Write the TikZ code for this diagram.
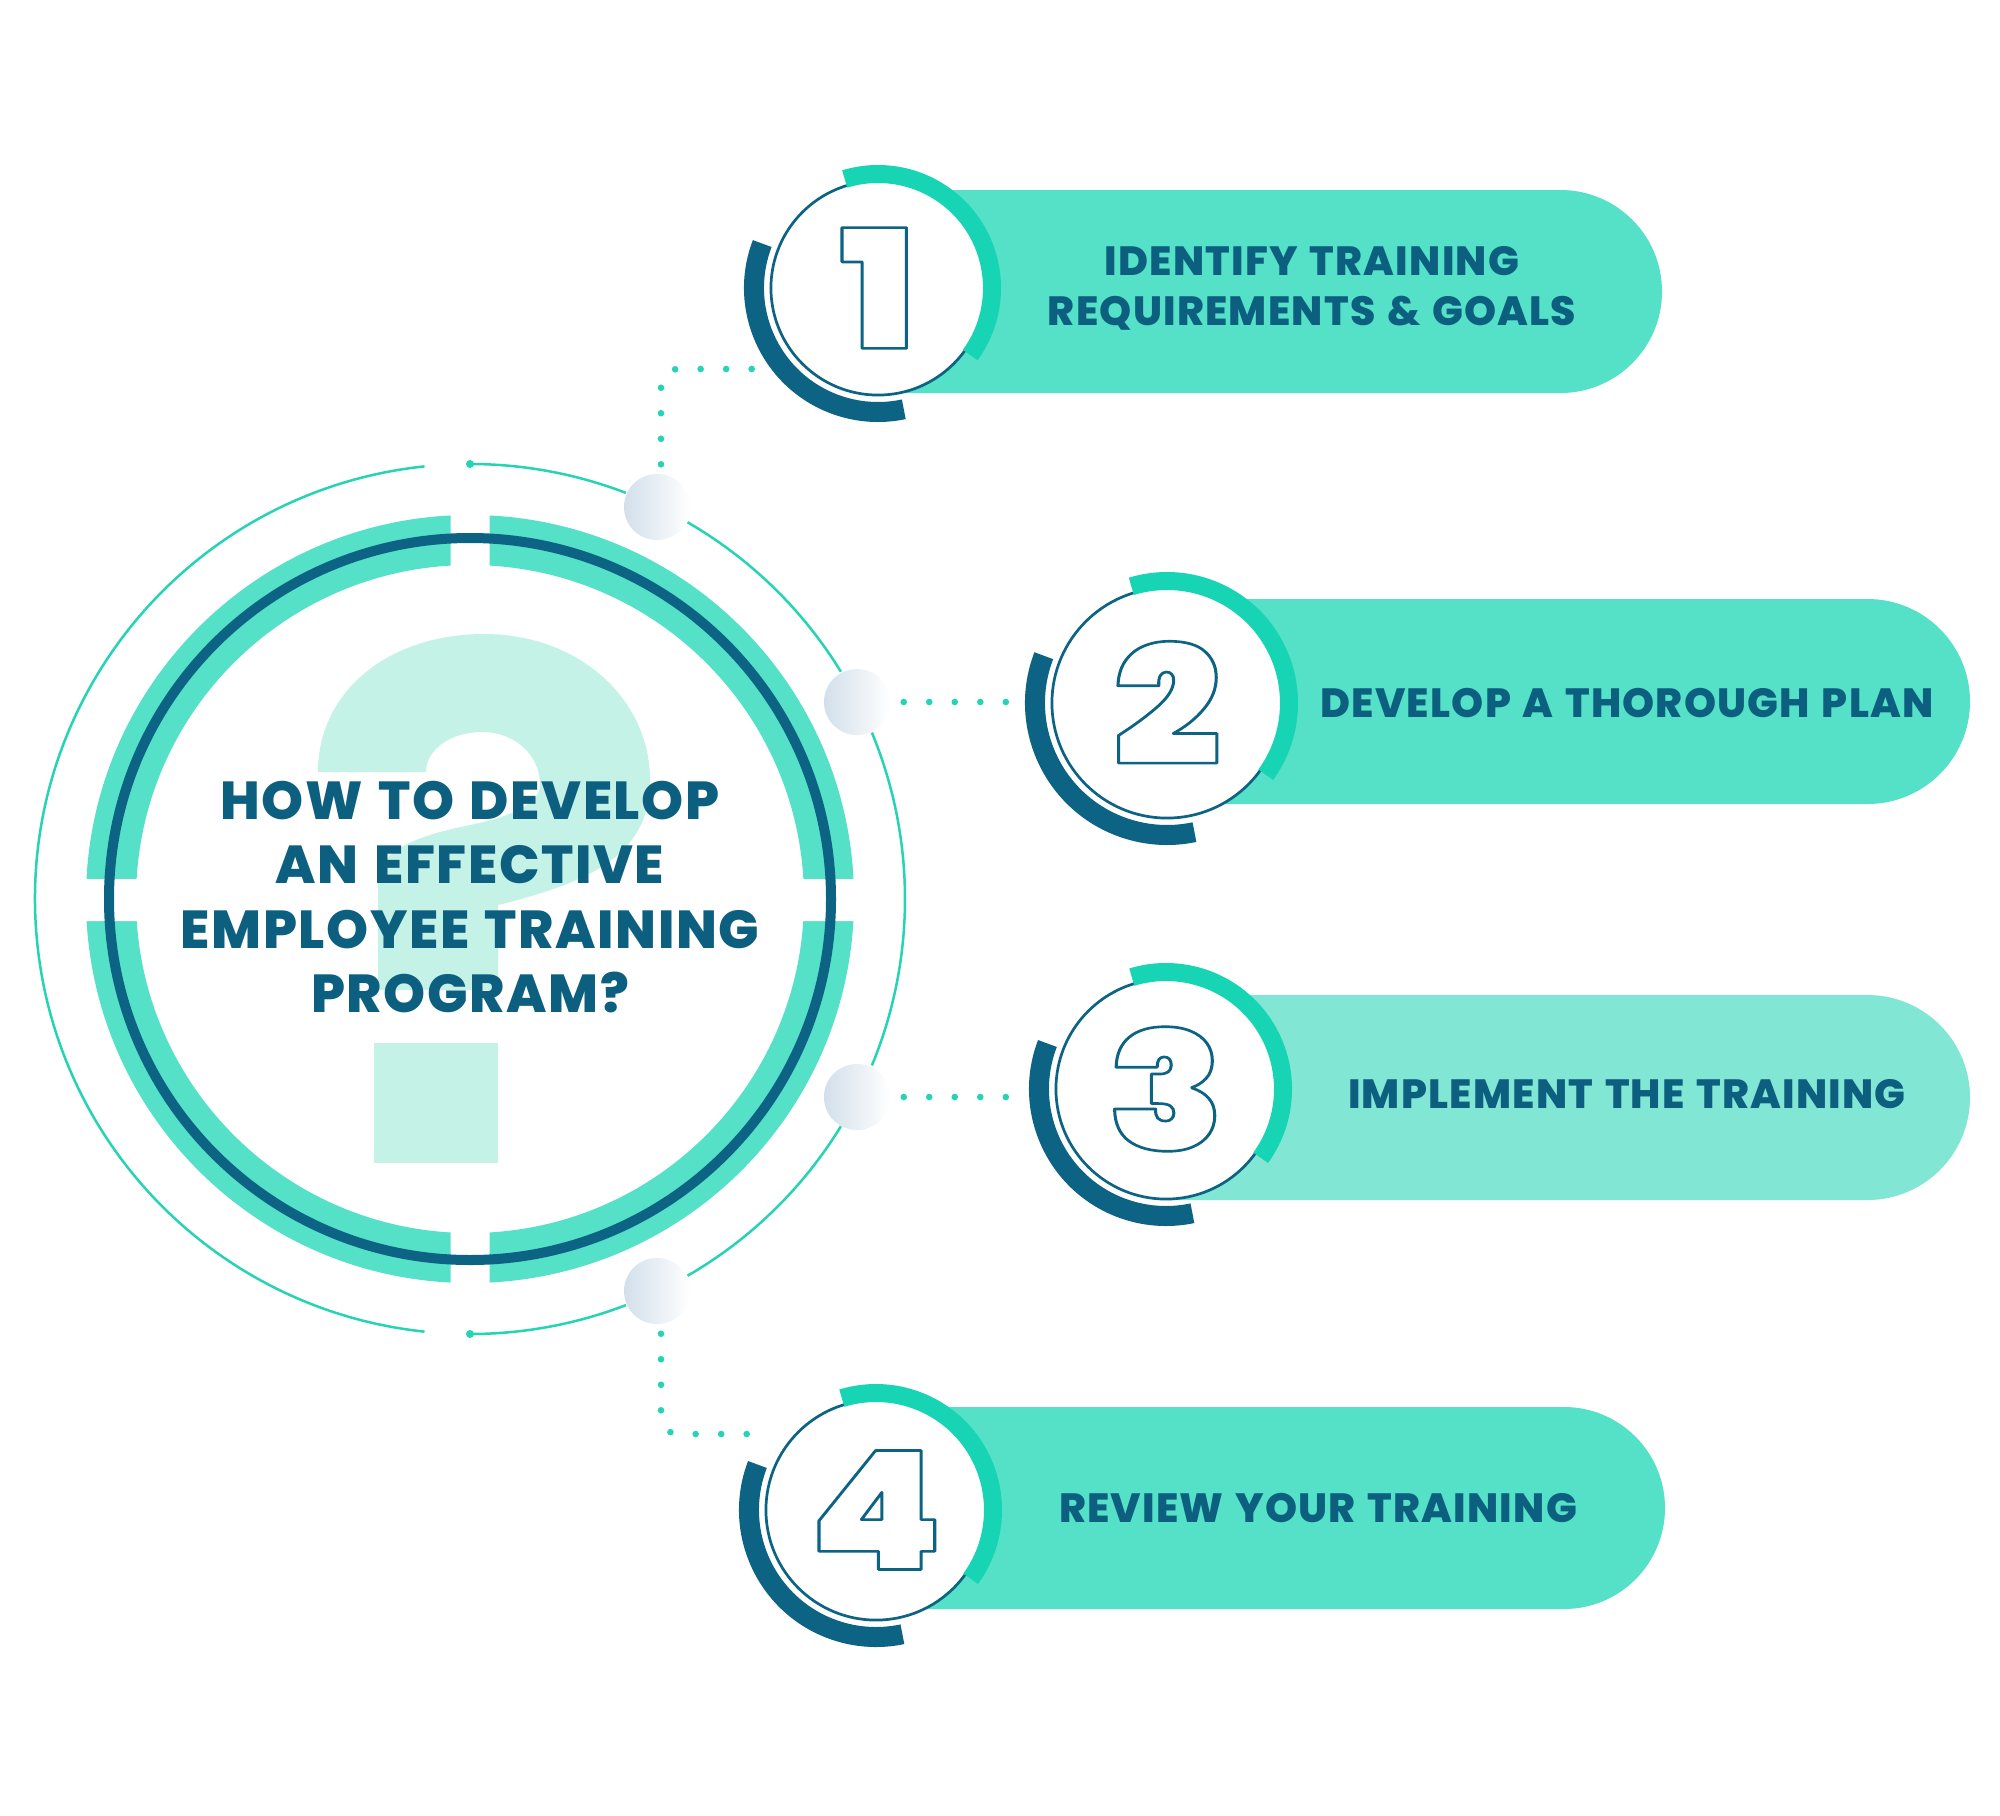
\documentclass[tikz,border=0pt]{standalone}
\usepackage{graphicx}
\usepackage{fontspec}
\setmainfont{Poppins}
\IfFontExistsTF{Poppins ExtraBold}
  {\newfontfamily\heavy{Poppins ExtraBold}[LetterSpace=3, WordSpace=1.3]}
  {\newfontfamily\heavy{Poppins}[UprightFont=* Bold, LetterSpace=6, WordSpace=1.3]}
\IfFontExistsTF{Poppins Black}
  {\newfontfamily\digitface{Poppins Black}}
  {\newfontfamily\digitface{Poppins}[UprightFont=* Bold]}

\definecolor{inkblue}{HTML}{0D5F80}
\definecolor{arcblue}{HTML}{0C6384}
\definecolor{pillteal}{HTML}{55E0C8}
\definecolor{paleteal}{HTML}{82E6D4}
\definecolor{brightteal}{HTML}{16D4B4}
\definecolor{ringteal}{HTML}{26D3B4}
\definecolor{mint}{HTML}{C5F2E7}
\definecolor{bubblegray}{HTML}{D2DFEA}

% hollow digits: glyphs stroked, not filled
\newcommand\hollow[1]{\scalebox{1.15}[1]{\digitface\fontsize{47}{47}\selectfont\special{pdf:literal direct 1 Tr 0.75 w 1 j}#1\special{pdf:literal direct 0 Tr}}}

\tikzset{
  numcircle/.style={circle, draw=arcblue, line width=0.027cm, fill=white, inner sep=0pt, text=arcblue},
  tealarc/.style={brightteal, line width=0.18cm},
  bluearc/.style={arcblue, line width=0.2cm},
  steptext/.style={text=inkblue, font=\heavy\fontsize{11.6}{14.2}\selectfont, align=center},
  dotline/.style={ringteal, line width=0.066cm, line cap=round, dash pattern=on 0pt off 0.255cm, rounded corners=0.17cm},
  bubble/.style={circle, minimum size=0.66cm, inner sep=0pt, left color=bubblegray, right color=white},
  thinring/.style={ringteal, line width=0.025cm}
}

\begin{document}
\begin{tikzpicture}[x=0.01cm, y=-0.01cm]
\useasboundingbox (0,0) rectangle (2000,1815);
\fill[white] (0,0) rectangle (2000,1815);

% the hub
\coordinate (hub) at (470,899);
\draw[thinring] (hub) ++(-96:435) arc[start angle=-96, end angle=-264, radius=435];
\draw[thinring] (hub) ++(-90:435) arc[start angle=-90, end angle=-69, radius=435];
\draw[thinring] (hub) ++(-60:435) arc[start angle=-60, end angle=-31.5, radius=435];
\draw[thinring] (hub) ++(-22.5:435) arc[start angle=-22.5, end angle=22.5, radius=435];
\draw[thinring] (hub) ++(31.5:435) arc[start angle=31.5, end angle=60, radius=435];
\draw[thinring] (hub) ++(69:435) arc[start angle=69, end angle=90, radius=435];
\fill[ringteal] (470,464) circle (4) (470,1334) circle (4);

\node[bubble] (b1) at (657,507) {};
\node[bubble] (b2) at (857,702) {};
\node[bubble] (b3) at (857,1097) {};
\node[bubble] (b4) at (657,1291) {};

% big question mark behind the title
\fill[mint] (318,772) .. controls (318,690) and (390,634) .. (484,634)
  .. controls (580,634) and (650,700) .. (650,780)
  .. controls (650,850) and (600,880) .. (498,905)
  -- (498,990) -- (378,990) -- (378,880)
  .. controls (378,850) and (420,835) .. (470,825)
  .. controls (520,815) and (540,800) .. (540,785)
  .. controls (540,755) and (515,732) .. (482,732)
  .. controls (450,732) and (426,750) .. (426,772) -- cycle;
\fill[mint] (374,1043) rectangle (498,1163);

\draw[pillteal, line width=0.5cm] (hub) circle[radius=359];
\fill[white] (450.5,508) rectangle (489.5,572) (450.5,1226) rectangle (489.5,1290)
  (80,879) rectangle (142,921) (798,879) rectangle (860,921);
\draw[arcblue, line width=0.1cm] (hub) circle[radius=361];

\node[text=inkblue, font=\heavy\fontsize{15.2}{18.35}\selectfont, align=center] (title) at (470,897)
  {HOW TO DEVELOP\\AN EFFECTIVE\\EMPLOYEE TRAINING\\PROGRAM?};

% pills
\fill[pillteal] (878,190) -- (1560.5,190) arc[start angle=-90, end angle=90, radius=101.5] -- (878,393) -- cycle;
\fill[pillteal] (1167,599) -- (1867.5,599) arc[start angle=-90, end angle=90, radius=102.5] -- (1167,804) -- cycle;
\fill[paleteal] (1166,995) -- (1867.5,995) arc[start angle=-90, end angle=90, radius=102.5] -- (1166,1200) -- cycle;
\fill[pillteal] (876,1407) -- (1564,1407) arc[start angle=-90, end angle=90, radius=101] -- (876,1609) -- cycle;

% step circles
\node[numcircle, minimum size=2.14cm] (n1) at (878,288) {\hollow{1}};
\node[numcircle, minimum size=2.30cm] (n2) at (1167,703) {\hollow{2}};
\node[numcircle, minimum size=2.20cm] (n3) at (1166,1089) {\hollow{3}};
\node[numcircle, minimum size=2.20cm] (n4) at (876,1510) {\hollow{4}};

\draw[tealarc] (n1.center) ++(36:114) arc[start angle=36, end angle=-107, radius=114];
\draw[bluearc] (n1.center) ++(-159:124) arc[start angle=-159, end angle=-282, radius=124];
\draw[tealarc] (n2.center) ++(36:122) arc[start angle=36, end angle=-107, radius=122];
\draw[bluearc] (n2.center) ++(-159:132) arc[start angle=-159, end angle=-282, radius=132];
\draw[tealarc] (n3.center) ++(36:117) arc[start angle=36, end angle=-107, radius=117];
\draw[bluearc] (n3.center) ++(-159:127) arc[start angle=-159, end angle=-282, radius=127];
\draw[tealarc] (n4.center) ++(36:117) arc[start angle=36, end angle=-107, radius=117];
\draw[bluearc] (n4.center) ++(-159:127) arc[start angle=-159, end angle=-282, radius=127];

\node[steptext] (t1) at (1312,288) {IDENTIFY TRAINING\\REQUIREMENTS \& GOALS};
\node[steptext] (t2) at (1627,703) {DEVELOP A THOROUGH PLAN};
\node[steptext] (t3) at (1627,1094) {IMPLEMENT THE TRAINING};
\node[steptext] (t4) at (1318,1508) {REVIEW YOUR TRAINING};

% dotted links
\coordinate (k1) at (757,369);
\coordinate (k2) at (1007,702);
\coordinate (k3) at (1007,1097);
\coordinate (k4) at (752,1434);
\draw[dotline] ([xshift=0.04cm, yshift=0.09cm]b1.north) |- (k1);
\draw[dotline] ([xshift=0.13cm]b2.east) -- (k2);
\draw[dotline] ([xshift=0.13cm]b3.east) -- (k3);
\draw[dotline] ([xshift=0.04cm, yshift=-0.09cm]b4.south) |- (k4);
\end{tikzpicture}
\end{document}
